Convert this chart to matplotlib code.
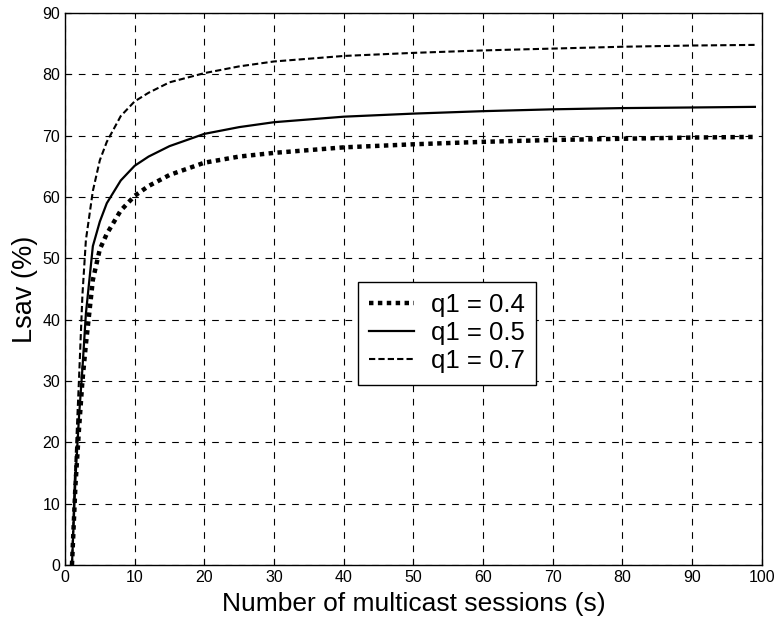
import numpy as np
import matplotlib
matplotlib.use('Agg')
import matplotlib.pyplot as plt

plt.rcParams['font.family'] = ['Liberation Sans', 'DejaVu Sans']

# number of multicast sessions
s = [1, 1.5, 2, 2.5, 3, 4, 5, 6, 8, 10, 12, 15, 20, 25, 30, 40, 50, 60, 70, 80, 90, 99]

# Lsav (%) for each q1
lsav_04 = [0, 13, 22, 30, 36, 46.5, 51.5, 54, 57.8, 60.2, 61.8, 63.6, 65.6, 66.6, 67.2,
           68.1, 68.6, 69.0, 69.3, 69.5, 69.7, 69.8]
lsav_05 = [0, 14, 24, 32, 41, 52, 56, 59, 62.7, 65.1, 66.6, 68.3, 70.3, 71.4, 72.2,
           73.1, 73.6, 74.0, 74.3, 74.5, 74.6, 74.7]
lsav_07 = [0, 17, 30, 44, 53, 61, 66, 69, 73.2, 75.6, 77.0, 78.7, 80.2, 81.3, 82.1,
           83.0, 83.5, 83.9, 84.2, 84.5, 84.7, 84.8]

fig = plt.figure(figsize=(7.83, 6.19), dpi=100)
ax = fig.add_axes([0.083, 0.087, 0.89, 0.892])

ax.plot(s, lsav_04, color='black', linestyle=(0, (1, 1)), linewidth=3.2, label='q1 = 0.4')
ax.plot(s, lsav_05, color='black', linestyle='-', linewidth=1.6, label='q1 = 0.5')
ax.plot(s, lsav_07, color='black', linestyle=(0, (3, 1.5)), linewidth=1.5, label='q1 = 0.7')

ax.set_xlim(0, 100)
ax.set_ylim(0, 90)
ax.set_xticks(np.arange(0, 101, 10))
ax.set_yticks(np.arange(0, 91, 10))
ax.tick_params(direction='in', length=4, labelsize=11.5, colors='black')
ax.grid(True, color='black', linestyle=(0, (6, 6)), linewidth=0.8)
for sp in ax.spines.values():
    sp.set_linewidth(1.0)

ax.set_xlabel('Number of multicast sessions (s)', fontsize=19, labelpad=5)
ax.set_ylabel('Lsav (%)', fontsize=19.5, labelpad=3)

leg = ax.legend(loc='center', bbox_to_anchor=(0.548, 0.42), fontsize=18.5, frameon=True,
                fancybox=False, edgecolor='black', framealpha=1, handlelength=1.75,
                handletextpad=0.65, borderpad=0.45, labelspacing=0.15)
leg.get_frame().set_linewidth(1.0)

fig.savefig('out.png', dpi=100)
